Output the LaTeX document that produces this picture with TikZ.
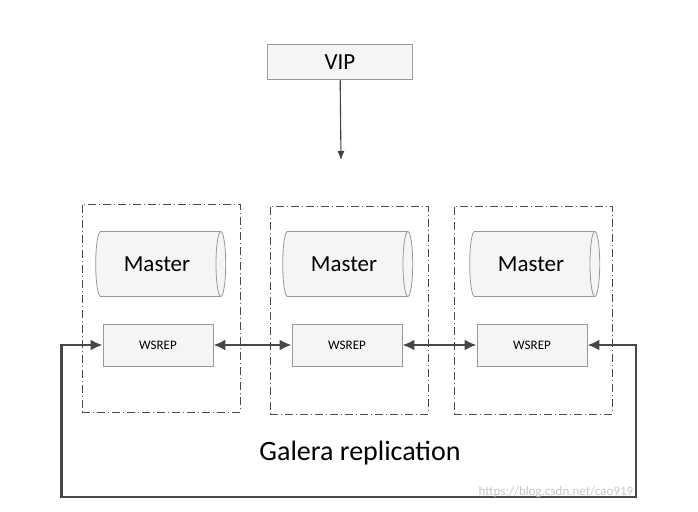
\documentclass[tikz,border=0pt]{standalone}
\usepackage{fontspec}
\setmainfont{Carlito}
\usetikzlibrary{positioning,shapes.geometric,arrows.meta}

\tikzset{
  box/.style={draw=gray!80,line width=0.8pt,fill=gray!8,minimum width=110pt,minimum height=42pt,font=\fontsize{13}{15}\selectfont},
  db/.style={cylinder,shape aspect=0.45,draw=gray!80,line width=0.8pt,fill=gray!8,minimum width=65pt,minimum height=130pt,
    font=\fontsize{23}{26}\selectfont},
  node/.style={draw=gray!60!black,line width=0.9pt,dash pattern=on 8pt off 3pt on 1pt off 3pt,minimum width=158pt,minimum height=208pt},
  link/.style={line width=2.6pt,draw=black!72,{Latex[length=12pt,width=11pt]}-{Latex[length=12pt,width=11pt]}}
}

\begin{document}
\begin{tikzpicture}[x=1pt,y=-1pt]
  \useasboundingbox (0,0) rectangle (698,511);

  % entry point
  \node[box,minimum width=145pt,minimum height=35pt,font=\fontsize{23}{26}\selectfont] (vip) at (340,62) {VIP};
  \coordinate (tip) at (341,160);
  \draw[-{Latex[length=9pt,width=7pt]},line width=1.1pt,black!75] (vip) -- (tip);

  % three cluster members
  \foreach \i/\x/\y in {a/161/308,b/349/310,c/533/310} {
    \node[node] (n\i) at (\x,\y) {};
  }
  \foreach \i/\x in {a/157,b/344,c/531} {
    \node[db] (m\i) at (\x,264) {Master};
  }
  \foreach \i/\x in {a/158,b/347,c/532} {
    \node[box] (w\i) at (\x,345) {WSREP};
  }

  % replication links
  \draw[link] (wa) -- (wb);
  \draw[link] (wb) -- (wc);
  \draw[link] (wa.west) -- ++(-41,0) |- (62,497) -| (636,345) -- (wc.east);

  \node[font=\fontsize{28}{32}\selectfont] (galera) at (360,453) {Galera replication};
  \node[text=gray!45,font=\fontsize{13}{15}\selectfont] (url) at (556,492) {https://blog.csdn.net/cao919};
\end{tikzpicture}
\end{document}
